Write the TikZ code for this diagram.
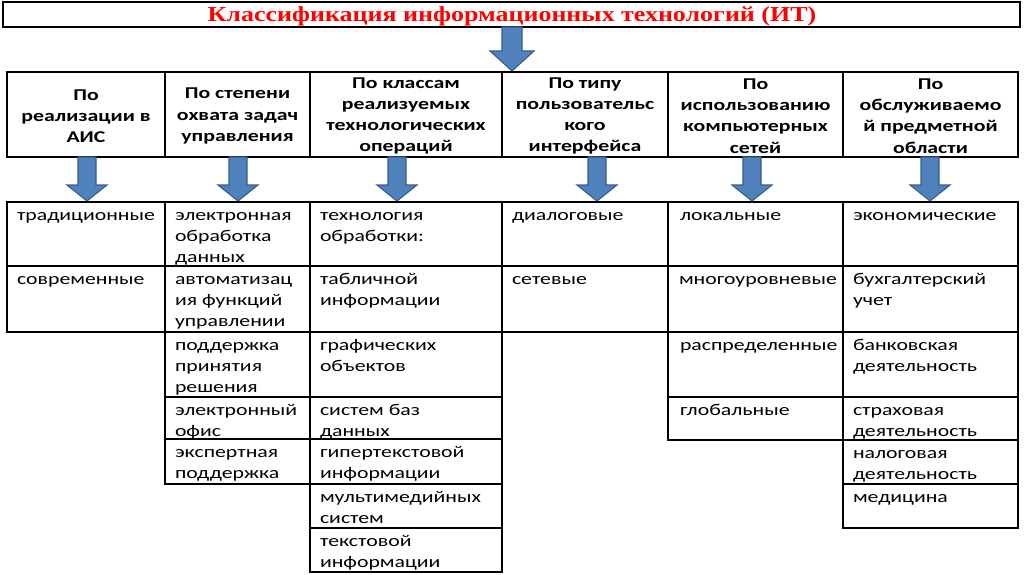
\documentclass[tikz,border=0pt]{standalone}
\usepackage{fontspec}
\setmainfont{Carlito}[FakeStretch=1.32]
\newfontfamily\titlefont{Liberation Serif}[FakeStretch=1.22]
\definecolor{arrfill}{HTML}{4F81BD}
\definecolor{arrline}{HTML}{385D8A}
\definecolor{titlered}{HTML}{FF0000}
\newcommand\cellc[3]{\parbox[c][#2][t]{#1}{\raggedright\leftskip=10pt\rule{0pt}{18pt}#3}}
\newcommand\hdrc[3]{\parbox[c][#2][c]{#1}{\centering\bfseries\vspace*{3pt}#3}}
\newcommand\blockarr[4]{% x, ytop, ybot, name
  \coordinate (#4) at (#1,#3);
  \filldraw[arrowst] (#1-9,#2) -- (#1+9,#2) -- (#1+9,#3-16) -- (#1+20,#3-16) -- (#4) -- (#1-20,#3-16) -- (#1-9,#3-16) -- cycle;}
\begin{document}
\begin{tikzpicture}[x=1pt,y=-1pt,
  box/.style={draw=black, line width=1.1pt, inner sep=0pt, outer sep=0pt, anchor=north west},
  arrowst/.style={fill=arrfill, draw=arrline, line width=1.1pt},
  font=\fontsize{16.5}{21.3}\selectfont]
\useasboundingbox[fill=white] (0,0) rectangle (1024,574);
% title
\node[box, minimum width=1017pt, minimum height=25pt] (title) at (3,2) {};
\node[text=titlered, font=\titlefont\bfseries\fontsize{21.3}{24}\selectfont, inner sep=0pt] (tt) at (512,16) {Классификация информационных технологий (ИТ)};
% top arrow
\coordinate (ta) at (512,71);
\filldraw[arrowst] (502,27) -- (522,27) -- (522,51) -- (534,51) -- (ta) -- (490,51) -- (502,51) -- cycle;
% header
\node[box] (h1) at (7,72) {\hdrc{158pt}{85pt}{По\\реализации в\\АИС}};
\node[box] (h2) at (165,72) {\hdrc{145pt}{85pt}{По степени\\охвата задач\\управления}};
\node[box] (h3) at (310,72) {\hdrc{192pt}{85pt}{По классам\\реализуемых\\технологических\\операций}};
\node[box] (h4) at (502,72) {\hdrc{166pt}{85pt}{По типу\\пользовательс\\кого\\интерфейса}};
\node[box] (h5) at (668,72) {\hdrc{175pt}{85pt}{По\\использованию\\компьютерных\\сетей}};
\node[box] (h6) at (843,72) {\hdrc{175pt}{85pt}{По\\обслуживаемо\\й предметной\\области}};
% arrows
\blockarr{87}{157}{201}{a1}
\blockarr{238}{157}{201}{a2}
\blockarr{397}{157}{201}{a3}
\blockarr{597}{157}{201}{a4}
\blockarr{752}{157}{201}{a5}
\blockarr{930}{157}{201}{a6}
% column 1
\node[box] (c11) at (7,202) {\cellc{158pt}{64pt}{традиционные}};
\node[box] (c12) at (7,266) {\cellc{158pt}{66pt}{современные}};
% column 2
\node[box] (c21) at (165,202) {\cellc{145pt}{64pt}{электронная\\обработка\\данных}};
\node[box] (c22) at (165,266) {\cellc{145pt}{66pt}{автоматизац\\ия функций\\управлении}};
\node[box] (c23) at (165,332) {\cellc{145pt}{65pt}{поддержка\\принятия\\решения}};
\node[box] (c24) at (165,397) {\cellc{145pt}{42pt}{электронный\\офис}};
\node[box] (c25) at (165,439) {\cellc{145pt}{45pt}{экспертная\\поддержка}};
% column 3
\node[box] (c31) at (310,202) {\cellc{192pt}{64pt}{технология\\обработки:}};
\node[box] (c32) at (310,266) {\cellc{192pt}{66pt}{табличной\\информации}};
\node[box] (c33) at (310,332) {\cellc{192pt}{65pt}{графических\\объектов}};
\node[box] (c34) at (310,397) {\cellc{192pt}{42pt}{систем баз\\данных}};
\node[box] (c35) at (310,439) {\cellc{192pt}{45pt}{гипертекстовой\\информации}};
\node[box] (c36) at (310,484) {\cellc{192pt}{44pt}{мультимедийных\\систем}};
\node[box] (c37) at (310,528) {\cellc{192pt}{44pt}{текстовой\\информации}};
% column 4
\node[box] (c41) at (502,202) {\cellc{166pt}{64pt}{диалоговые}};
\node[box] (c42) at (502,266) {\cellc{166pt}{66pt}{сетевые}};
% column 5
\node[box] (c51) at (668,202) {\cellc{175pt}{64pt}{\hspace*{2pt}локальные}};
\node[box] (c52) at (668,266) {\cellc{175pt}{66pt}{\hspace*{1pt}многоуровневые}};
\node[box] (c53) at (668,332) {\cellc{175pt}{65pt}{\hspace*{2pt}распределенные}};
\node[box] (c54) at (668,397) {\cellc{175pt}{43pt}{\hspace*{2pt}глобальные}};
% column 6
\node[box] (c61) at (843,202) {\cellc{175pt}{64pt}{экономические}};
\node[box] (c62) at (843,266) {\cellc{175pt}{66pt}{бухгалтерский\\учет}};
\node[box] (c63) at (843,332) {\cellc{175pt}{65pt}{банковская\\деятельность}};
\node[box] (c64) at (843,397) {\cellc{175pt}{43pt}{страховая\\деятельность}};
\node[box] (c65) at (843,440) {\cellc{175pt}{44pt}{налоговая\\деятельность}};
\node[box] (c66) at (843,484) {\cellc{175pt}{44pt}{медицина}};
\end{tikzpicture}
\end{document}
